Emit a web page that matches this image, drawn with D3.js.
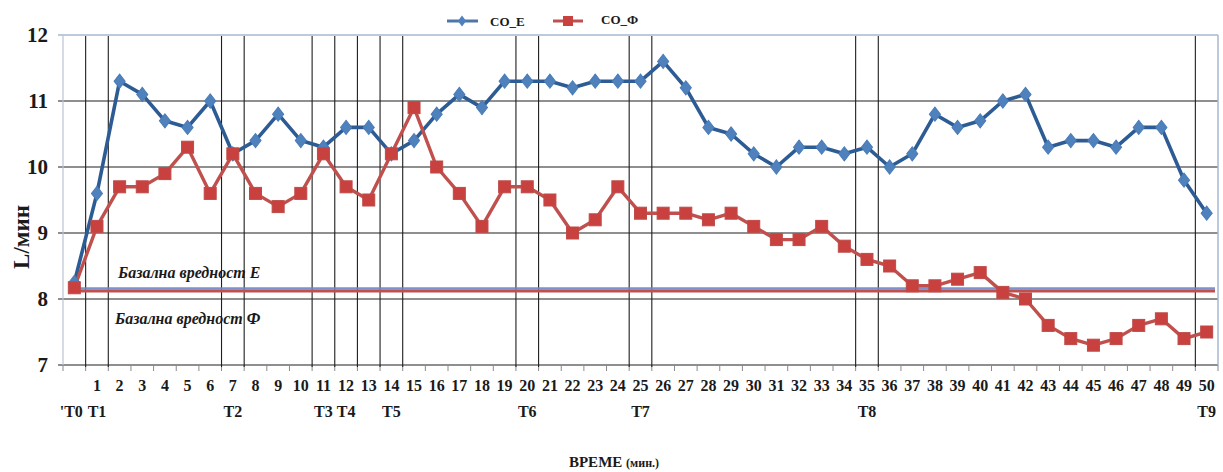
<!DOCTYPE html>
<html>
<head>
<meta charset="utf-8">
<script src="https://d3js.org/d3.v7.min.js"></script>
<style>
  body { margin: 0; background: #fff; }
  text { font-family: "Liberation Serif", "Times New Roman", serif; }
</style>
</head>
<body>
<div id="chart"></div>
<script>
// minutes on the category axis (T0 has no number)
var minutes = ["", "1", "2", "3", "4", "5", "6", "7", "8", "9", "10",
  "11", "12", "13", "14", "15", "16", "17", "18", "19", "20",
  "21", "22", "23", "24", "25", "26", "27", "28", "29", "30",
  "31", "32", "33", "34", "35", "36", "37", "38", "39", "40",
  "41", "42", "43", "44", "45", "46", "47", "48", "49", "50"];

// T markers: index on the axis and label
var tIndex = [0, 1, 7, 11, 12, 14, 20, 25, 35, 50];
var tLabels = ["'T0", "T1", "T2", "T3", "T4", "T5", "T6", "T7", "T8", "T9"];

var coE = [8.25, 9.6, 11.3, 11.1, 10.7, 10.6, 11.0, 10.2, 10.4, 10.8, 10.4,
  10.3, 10.6, 10.6, 10.2, 10.4, 10.8, 11.1, 10.9, 11.3, 11.3,
  11.3, 11.2, 11.3, 11.3, 11.3, 11.6, 11.2, 10.6, 10.5, 10.2,
  10.0, 10.3, 10.3, 10.2, 10.3, 10.0, 10.2, 10.8, 10.6, 10.7,
  11.0, 11.1, 10.3, 10.4, 10.4, 10.3, 10.6, 10.6, 9.8, 9.3];

var coF = [8.17, 9.1, 9.7, 9.7, 9.9, 10.3, 9.6, 10.2, 9.6, 9.4, 9.6,
  10.2, 9.7, 9.5, 10.2, 10.9, 10.0, 9.6, 9.1, 9.7, 9.7,
  9.5, 9.0, 9.2, 9.7, 9.3, 9.3, 9.3, 9.2, 9.3, 9.1,
  8.9, 8.9, 9.1, 8.8, 8.6, 8.5, 8.2, 8.2, 8.3, 8.4,
  8.1, 8.0, 7.6, 7.4, 7.3, 7.4, 7.6, 7.7, 7.4, 7.5];

var baseE = 8.16, baseF = 8.12;
var yTicks = [7, 8, 9, 10, 11, 12];

var width = 1223, height = 472;
var pLeft = 63, pRight = 1218, pTop = 35, pBottom = 365;

var svg = d3.select("#chart").append("svg")
  .attr("width", width).attr("height", height);

var idx = d3.range(minutes.length);
var x = d3.scaleBand().domain(idx).range([pLeft, pRight]).paddingInner(0).paddingOuter(0);
var y = d3.scaleLinear().domain([7, 12]).range([pBottom, pTop]);
var cx = function(i) { return x(i) + x.bandwidth() / 2; };

// horizontal grid
svg.selectAll(".grid").data(yTicks).enter().append("line")
  .attr("x1", pLeft - 5).attr("x2", pRight)
  .attr("y1", function(d) { return y(d); }).attr("y2", function(d) { return y(d); })
  .attr("stroke", function(d) { return d == 12 ? "#a7b9d0" : "#6a6a6a"; })
  .attr("stroke-width", function(d) { return d == 12 ? 1.5 : 1.6; });

// plot borders (left/right)
svg.append("line").attr("x1", pLeft).attr("x2", pLeft).attr("y1", pTop).attr("y2", pBottom)
  .attr("stroke", "#b8c4d4").attr("stroke-width", 1.2);
svg.append("line").attr("x1", pRight).attr("x2", pRight).attr("y1", pTop).attr("y2", pBottom)
  .attr("stroke", "#a7b9d0").attr("stroke-width", 1.5);

// x tick marks at category boundaries
var bounds = d3.range(minutes.length + 1);
svg.selectAll(".xt").data(bounds).enter().append("line")
  .attr("x1", function(b) { return pLeft + b * x.bandwidth(); })
  .attr("x2", function(b) { return pLeft + b * x.bandwidth(); })
  .attr("y1", pBottom).attr("y2", pBottom + 6)
  .attr("stroke", "#8a8a8a").attr("stroke-width", 1);

// vertical black lines on both sides of each T category
var vbounds = [];
tIndex.forEach(function(i) {
  if (vbounds.indexOf(i) < 0) vbounds.push(i);
  if (vbounds.indexOf(i + 1) < 0) vbounds.push(i + 1);
});
vbounds = vbounds.filter(function(b) { return b > 0 && b < minutes.length; });
svg.selectAll(".vt").data(vbounds).enter().append("line")
  .attr("x1", function(b) { return pLeft + b * x.bandwidth(); })
  .attr("x2", function(b) { return pLeft + b * x.bandwidth(); })
  .attr("y1", pTop + 1).attr("y2", pBottom + 2)
  .attr("stroke", "#1e1e1e").attr("stroke-width", 1.1);

// y labels
svg.selectAll(".yl").data(yTicks).enter().append("text")
  .attr("x", 48).attr("y", function(d) { return y(d) + 7; })
  .attr("text-anchor", "end").attr("font-size", "21px").attr("font-weight", "bold")
  .attr("fill", "#1a1a1a").text(function(d) { return d; });

svg.append("text")
  .attr("transform", "translate(29," + 237 + ") rotate(-90)")
  .attr("text-anchor", "middle").attr("font-size", "23px").attr("font-weight", "bold")
  .attr("fill", "#1a1a1a").text("L/мин");

// x labels
svg.selectAll(".xl").data(idx).enter().append("text")
  .attr("x", function(i) { return cx(i); }).attr("y", 391)
  .attr("text-anchor", "middle").attr("font-size", "16px").attr("font-weight", "bold")
  .attr("fill", "#1a1a1a").text(function(i) { return minutes[i]; });

svg.selectAll(".tl").data(tIndex).enter().append("text")
  .attr("x", function(i) { return cx(i) - (i == 0 ? 3 : 0); }).attr("y", 417)
  .attr("text-anchor", "middle").attr("font-size", "16px").attr("font-weight", "bold")
  .attr("fill", "#1a1a1a").text(function(i, k) { return tLabels[k]; });

var xt = svg.append("text").attr("x", 614).attr("y", 467)
  .attr("text-anchor", "middle").attr("font-weight", "bold").attr("fill", "#1a1a1a");
xt.append("tspan").attr("font-size", "15px").text("ВРЕМЕ ");
xt.append("tspan").attr("font-size", "12px").text("(мин.)");

// baseline values
svg.append("line").attr("x1", cx(0)).attr("x2", pRight - 3)
  .attr("y1", y(baseF)).attr("y2", y(baseF))
  .attr("stroke", "#c0504d").attr("stroke-width", 3);
svg.append("line").attr("x1", cx(0)).attr("x2", pRight - 3)
  .attr("y1", y(baseE)).attr("y2", y(baseE))
  .attr("stroke", "#6f86c8").attr("stroke-width", 2.5).attr("opacity", 0.9);

svg.append("text").attr("x", 118).attr("y", 278)
  .attr("font-size", "16px").attr("font-style", "italic").attr("font-weight", "bold")
  .attr("fill", "#1a1a1a").text("Базална вредност Е");
svg.append("text").attr("x", 115).attr("y", 324)
  .attr("font-size", "16px").attr("font-style", "italic").attr("font-weight", "bold")
  .attr("fill", "#1a1a1a").text("Базална вредност Ф");

// series
var line = d3.line().x(function(d, i) { return cx(i); }).y(function(d) { return y(d); });

svg.append("path").datum(coE).attr("d", line)
  .attr("fill", "none").attr("stroke", "#2d5c94").attr("stroke-width", 3.6)
  .attr("stroke-linejoin", "round");
svg.append("path").datum(coF).attr("d", line)
  .attr("fill", "none").attr("stroke", "#c0504d").attr("stroke-width", 3.4)
  .attr("stroke-linejoin", "round");

var diamond = d3.symbol().type(d3.symbolSquare).size(80);
svg.selectAll(".me").data(coE).enter().append("path")
  .attr("d", diamond())
  .attr("transform", function(d, i) { return "translate(" + cx(i) + "," + y(d) + ") scale(0.88,1.12) rotate(45)"; })
  .attr("fill", "#4f81bd").attr("stroke", "#4a7cb8").attr("stroke-width", 1);

svg.selectAll(".mf").data(coF).enter().append("rect")
  .attr("x", function(d, i) { return cx(i) - 6; })
  .attr("y", function(d) { return y(d) - 6; })
  .attr("width", 12).attr("height", 12)
  .attr("fill", "#c9413f").attr("stroke", "#be4b48").attr("stroke-width", 1);

// legend
var lg = svg.append("g");
lg.append("line").attr("x1", 447).attr("x2", 478).attr("y1", 21).attr("y2", 21)
  .attr("stroke", "#4f76a8").attr("stroke-width", 3);
lg.append("path").attr("d", diamond())
  .attr("transform", "translate(462,21) scale(0.65,0.85) rotate(45)")
  .attr("fill", "#4f81bd");
lg.append("text").attr("x", 490).attr("y", 26).attr("font-size", "13px").attr("font-weight", "bold")
  .attr("fill", "#1a1a1a").text("CO_E");
lg.append("line").attr("x1", 553).attr("x2", 583).attr("y1", 21).attr("y2", 21)
  .attr("stroke", "#c0504d").attr("stroke-width", 3);
lg.append("rect").attr("x", 563).attr("y", 16).attr("width", 10).attr("height", 10)
  .attr("fill", "#c9413f");
lg.append("text").attr("x", 601).attr("y", 24).attr("font-size", "13px").attr("font-weight", "bold")
  .attr("fill", "#1a1a1a").text("CO_Ф");
</script>
</body>
</html>
